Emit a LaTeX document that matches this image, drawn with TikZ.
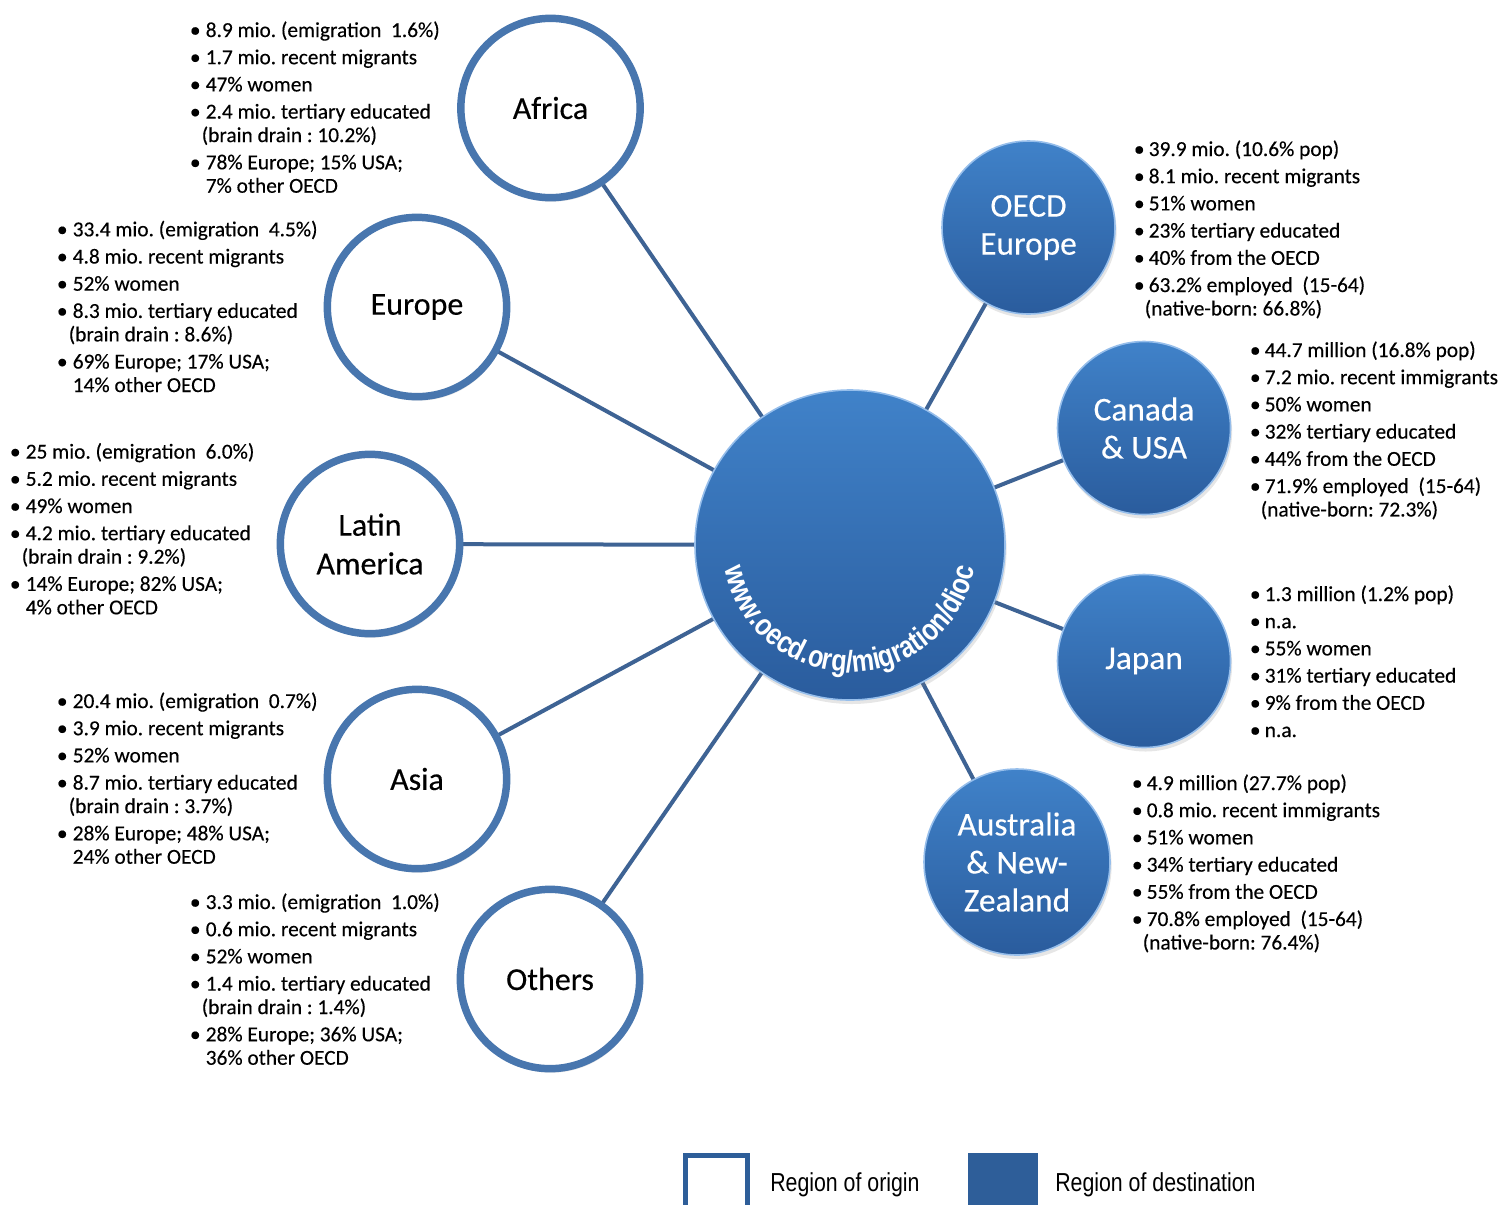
\documentclass[tikz,border=0pt]{standalone}
\usepackage{fontspec}
\setmainfont[FakeBold=0.3]{Carlito}
\newfontfamily\legfont[FakeStretch=0.82]{Liberation Sans}
\newfontfamily\urlfont[FakeStretch=0.82]{Liberation Sans Bold}
\usetikzlibrary{shadows,decorations.text}
\pgfdeclarelayer{background}
\pgfsetlayers{background,main}
\definecolor{origborder}{RGB}{72,118,174}
\definecolor{connc}{RGB}{62,99,148}
\definecolor{dtop}{RGB}{64,130,201}
\definecolor{dbot}{RGB}{42,92,157}
\definecolor{drim}{RGB}{150,190,235}
\definecolor{legc}{RGB}{46,94,153}
\newlength\bw \setlength\bw{15.75pt}
\newlength\bwr \setlength\bwr{14.25pt}
\newcommand\bu{\strut\makebox[\bw][c]{\textbullet}}
\newcommand\cont{\strut\hspace*{\bw}}
\newcommand\contp{\strut\hspace*{\dimexpr\bw-3pt\relax}}
\newcommand\bur{\strut\makebox[\bwr][c]{\textbullet}}
\newcommand\contr{\strut\hspace*{\dimexpr\bwr-3pt\relax}}
\newcommand\isep{2.8pt}
\frenchspacing
\begin{document}
\frenchspacing
\begin{tikzpicture}[x=0.75pt,y=0.75pt,
  orig/.style={circle, draw=origborder, line width=5.6pt, fill=white,
    minimum size=134.5pt, inner sep=0pt, align=center,
    font=\fontsize{24}{29}\selectfont, text=black,
    drop shadow={shadow xshift=1.2pt, shadow yshift=-3pt, opacity=0.2}},
  dest/.style={circle, draw=drim, line width=1.2pt, top color=dtop, bottom color=dbot,
    minimum size=129.75pt, inner sep=0pt, align=center,
    font=\fontsize{25}{28.5}\selectfont, text=white,
    drop shadow={shadow xshift=1.2pt, shadow yshift=-3pt, opacity=0.2}},
  info/.style={anchor=north west, inner sep=0pt, align=left,
    font=\fontsize{16}{17.6}\selectfont\frenchspacing},
  conn/.style={draw=connc, line width=3pt},
  legorig/.style={draw=legc, line width=3.75pt, fill=white, minimum width=46.5pt,
    minimum height=46.5pt, inner sep=0pt},
  legdest/.style={fill=legc, minimum width=52.5pt, minimum height=52.5pt, inner sep=0pt},
  legtext/.style={anchor=base west, inner sep=0pt, font=\legfont\fontsize{19.5}{22}\selectfont}]
\useasboundingbox (0,0) rectangle (1505,-1204);
\clip (0,0) rectangle (1505,-1204);

% centre
\node[dest, minimum size=232.5pt] (ctr) at (850,-545) {};
\path[decorate, decoration={text along path, text align=center, text color=white,
  text={|\urlfont\fontsize{23}{23}\selectfont|www.oecd.org/migration/dioc}}]
  (850,-545) ++(188:127) arc[start angle=188, end angle=352, radius=127];

% regions of origin
\node[orig] (africa) at (550.5,-108) {Africa};
\node[orig] (europe) at (417,-307) {Europe};
\node[orig] (latin) at (370,-544) {Latin\\America};
\node[orig] (asia) at (417,-779) {Asia};
\node[orig] (others) at (550,-979) {Others};

% regions of destination
\node[dest] (oecdeu) at (1028.5,-227.5) {OECD\\Europe};
\node[dest] (canada) at (1144,-428) {Canada\\\& USA};
\node[dest] (japan) at (1144,-661) {Japan};
\node[dest, minimum size=139.5pt] (austr) at (1017,-862) {Australia\\\& New-\\Zealand};

\begin{pgfonlayer}{background}
\foreach \n in {africa,europe,latin,asia,others,oecdeu,canada,japan,austr}
  \draw[conn] (ctr.center) -- (\n.center);
\end{pgfonlayer}

% information texts
\node[info] (tafrica) at (184.5,-20.3) {%
\bu 8.9 mio. (emigration\ \ 1.6\%)\\[\isep]
\bu 1.7 mio. recent migrants\\[\isep]
\bu 47\% women\\[\isep]
\bu 2.4 mio. tertiary educated\\
\contp(brain drain : 10.2\%)\\[\isep]
\bu 78\% Europe; 15\% USA;\\
\cont 7\% other OECD};

\node[info] (teurope) at (51.5,-219.6) {%
\bu 33.4 mio. (emigration\ \ 4.5\%)\\[\isep]
\bu 4.8 mio. recent migrants\\[\isep]
\bu 52\% women\\[\isep]
\bu 8.3 mio. tertiary educated\\
\contp(brain drain : 8.6\%)\\[\isep]
\bu 69\% Europe; 17\% USA;\\
\cont 14\% other OECD};

\node[info] (tlatin) at (4.5,-441.9) {%
\bu 25 mio. (emigration\ \ 6.0\%)\\[\isep]
\bu 5.2 mio. recent migrants\\[\isep]
\bu 49\% women\\[\isep]
\bu 4.2 mio. tertiary educated\\
\contp(brain drain : 9.2\%)\\[\isep]
\bu 14\% Europe; 82\% USA;\\
\cont 4\% other OECD};

\node[info] (tasia) at (51.5,-691.3) {%
\bu 20.4 mio. (emigration\ \ 0.7\%)\\[\isep]
\bu 3.9 mio. recent migrants\\[\isep]
\bu 52\% women\\[\isep]
\bu 8.7 mio. tertiary educated\\
\contp(brain drain : 3.7\%)\\[\isep]
\bu 28\% Europe; 48\% USA;\\
\cont 24\% other OECD};

\node[info] (tothers) at (184.5,-892.3) {%
\bu 3.3 mio. (emigration\ \ 1.0\%)\\[\isep]
\bu 0.6 mio. recent migrants\\[\isep]
\bu 52\% women\\[\isep]
\bu 1.4 mio. tertiary educated\\
\contp(brain drain : 1.4\%)\\[\isep]
\bu 28\% Europe; 36\% USA;\\
\cont 36\% other OECD};

\node[info] (toecdeu) at (1129.5,-139.3) {%
\bur 39.9 mio. (10.6\% pop)\\[\isep]
\bur 8.1 mio. recent migrants\\[\isep]
\bur 51\% women\\[\isep]
\bur 23\% tertiary educated\\[\isep]
\bur 40\% from the OECD\\[\isep]
\bur 63.2\% employed\ \ (15-64)\\
\contr(native-born: 66.8\%)};

\node[info] (tcanada) at (1245.5,-340.3) {%
\bur 44.7 million (16.8\% pop)\\[\isep]
\bur 7.2 mio. recent immigrants\\[\isep]
\bur 50\% women\\[\isep]
\bur 32\% tertiary educated\\[\isep]
\bur 44\% from the OECD\\[\isep]
\bur 71.9\% employed\ \ (15-64)\\
\contr(native-born: 72.3\%)};

\node[info] (tjapan) at (1245.5,-584.3) {%
\bur 1.3 million (1.2\% pop)\\[\isep]
\bur n.a.\\[\isep]
\bur 55\% women\\[\isep]
\bur 31\% tertiary educated\\[\isep]
\bur 9\% from the OECD\\[\isep]
\bur n.a.};

\node[info] (taustr) at (1127.5,-773.3) {%
\bur 4.9 million (27.7\% pop)\\[\isep]
\bur 0.8 mio. recent immigrants\\[\isep]
\bur 51\% women\\[\isep]
\bur 34\% tertiary educated\\[\isep]
\bur 55\% from the OECD\\[\isep]
\bur 70.8\% employed\ \ (15-64)\\
\contr(native-born: 76.4\%)};

% legend
\node[legorig] (lorig) at (716.5,-1186.5) {};
\node[legtext] (lorigt) at (770,-1191) {Region of origin};
\node[legdest] (ldest) at (1003,-1188) {};
\node[legtext] (ldestt) at (1055,-1191) {Region of destination};
\end{tikzpicture}
\end{document}
